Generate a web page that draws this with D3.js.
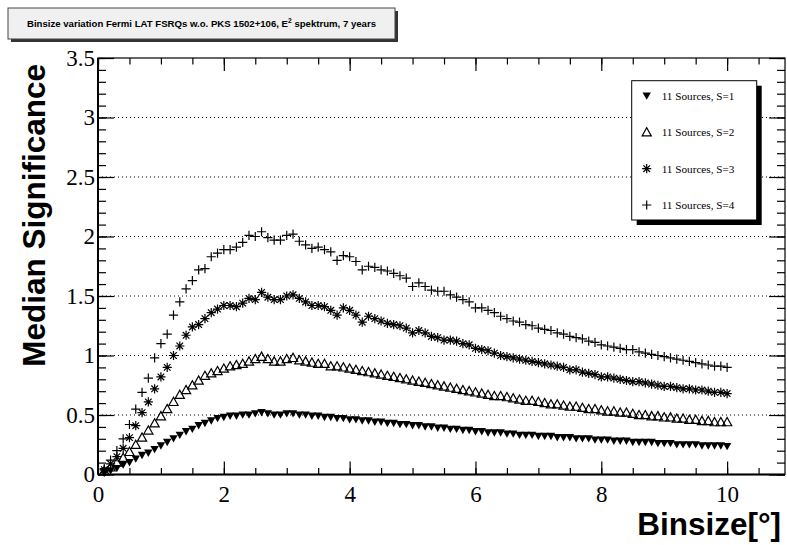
<!DOCTYPE html>
<html><head><meta charset="utf-8">
<script src="https://cdn.jsdelivr.net/npm/d3@7/dist/d3.min.js"></script>
<style>body{margin:0;background:#fff}</style>
</head><body>
<svg id="c" width="787" height="545"></svg>
<script>
const binsize = [0.1,0.2,0.3,0.4,0.5,0.6,0.7,0.8,0.9,1.0,
1.1,1.2,1.3,1.4,1.5,1.6,1.7,1.8,1.9,2.0,
2.1,2.2,2.3,2.4,2.5,2.6,2.7,2.8,2.9,3.0,
3.1,3.2,3.3,3.4,3.5,3.6,3.7,3.8,3.9,4.0,
4.1,4.2,4.3,4.4,4.5,4.6,4.7,4.8,4.9,5.0,
5.1,5.2,5.3,5.4,5.5,5.6,5.7,5.8,5.9,6.0,
6.1,6.2,6.3,6.4,6.5,6.6,6.7,6.8,6.9,7.0,
7.1,7.2,7.3,7.4,7.5,7.6,7.7,7.8,7.9,8.0,
8.1,8.2,8.3,8.4,8.5,8.6,8.7,8.8,8.9,9.0,
9.1,9.2,9.3,9.4,9.5,9.6,9.7,9.8,9.9,10.0];

const s1 = [0.01,0.03,0.05,0.08,0.10,0.13,0.16,0.18,0.21,0.24,
0.27,0.30,0.33,0.36,0.38,0.41,0.43,0.45,0.47,0.48,
0.49,0.49,0.50,0.50,0.51,0.52,0.51,0.50,0.50,0.51,
0.51,0.50,0.50,0.49,0.49,0.48,0.48,0.47,0.47,0.46,
0.46,0.45,0.45,0.44,0.44,0.43,0.43,0.42,0.42,0.41,
0.41,0.40,0.40,0.39,0.39,0.38,0.38,0.37,0.37,0.36,
0.36,0.35,0.35,0.35,0.34,0.34,0.33,0.33,0.33,0.32,
0.32,0.32,0.31,0.31,0.31,0.30,0.30,0.30,0.29,0.29,
0.29,0.28,0.28,0.28,0.27,0.27,0.27,0.27,0.26,0.26,
0.26,0.25,0.25,0.25,0.25,0.24,0.24,0.24,0.24,0.235];

const s2 = [0.03,0.06,0.10,0.14,0.19,0.25,0.31,0.37,0.43,0.49,
0.55,0.61,0.67,0.71,0.75,0.79,0.83,0.85,0.87,0.89,
0.91,0.92,0.93,0.95,0.97,0.99,0.97,0.95,0.95,0.97,
0.98,0.96,0.95,0.94,0.93,0.93,0.91,0.91,0.90,0.89,
0.88,0.87,0.86,0.85,0.84,0.83,0.82,0.81,0.80,0.79,
0.78,0.77,0.76,0.75,0.74,0.73,0.72,0.71,0.70,0.69,
0.68,0.67,0.66,0.66,0.65,0.64,0.63,0.62,0.62,0.61,
0.60,0.59,0.59,0.58,0.57,0.57,0.56,0.55,0.55,0.54,
0.53,0.53,0.52,0.52,0.51,0.50,0.50,0.49,0.49,0.48,
0.48,0.47,0.47,0.46,0.46,0.45,0.45,0.44,0.44,0.44];

const s3 = [0.04,0.09,0.15,0.22,0.31,0.41,0.52,0.61,0.72,0.82,
0.90,1.00,1.08,1.17,1.24,1.26,1.31,1.36,1.39,1.42,
1.42,1.41,1.44,1.48,1.47,1.53,1.49,1.47,1.47,1.50,
1.51,1.48,1.45,1.42,1.42,1.41,1.38,1.34,1.40,1.38,
1.34,1.28,1.33,1.31,1.29,1.27,1.26,1.25,1.23,1.19,
1.21,1.19,1.16,1.15,1.13,1.13,1.12,1.10,1.09,1.06,
1.05,1.04,1.02,1.00,0.99,0.98,0.97,0.96,0.95,0.94,
0.93,0.92,0.91,0.90,0.88,0.88,0.86,0.85,0.84,0.82,
0.82,0.81,0.80,0.79,0.78,0.78,0.77,0.76,0.75,0.74,
0.74,0.73,0.72,0.72,0.71,0.71,0.70,0.69,0.69,0.68];

const s4 = [0.05,0.12,0.20,0.30,0.42,0.55,0.69,0.81,0.98,1.10,
1.18,1.34,1.45,1.56,1.63,1.72,1.73,1.83,1.86,1.89,
1.89,1.91,1.95,2.01,2.00,2.04,1.99,1.97,1.97,2.01,
2.02,1.96,1.93,1.90,1.91,1.89,1.87,1.80,1.84,1.83,
1.79,1.72,1.75,1.74,1.72,1.71,1.69,1.67,1.65,1.58,
1.61,1.58,1.55,1.54,1.54,1.51,1.49,1.47,1.45,1.40,
1.40,1.38,1.36,1.33,1.31,1.29,1.28,1.26,1.25,1.23,
1.22,1.21,1.19,1.18,1.16,1.15,1.14,1.12,1.11,1.09,
1.08,1.07,1.06,1.05,1.05,1.03,1.02,1.01,1.00,0.99,
0.98,0.97,0.96,0.95,0.94,0.93,0.92,0.91,0.91,0.90];

const seriesNames = ["11 Sources, S=1","11 Sources, S=2","11 Sources, S=3","11 Sources, S=4"];
const markerTypes = ["downTri","upTriOpen","asterisk","plus"];
const xMajorTicks = [0,2,4,6,8,10];
const yMajorTicks = [0,0.5,1,1.5,2,2.5,3,3.5];
const gridValues = [0.5,1,1.5,2,2.5,3];
const titleText = "Binsize variation Fermi LAT FSRQs w.o. PKS 1502+106, E";
const titleSup = "2";
const titleRest = " spektrum, 7 years";
const xTitle = "Binsize[°]";
const yTitle = "Median Significance";

const svg = d3.select("#c");
const L = 98, R = 785, T = 58, B = 474.5;
const x = d3.scaleLinear().domain([0, 10.92]).range([L, R]);
const y = d3.scaleLinear().domain([0, 3.5]).range([B, T]);
const xMinor = d3.range(0, 10.92, 0.5);
const yMinor = d3.range(0, 3.5001, 0.1);
const serif = "'Liberation Serif', 'Times New Roman', Times, serif";
const sans = "'Liberation Sans', Arial, Helvetica, sans-serif";

svg.append("g").selectAll("line").data(gridValues).join("line")
  .attr("x1", L).attr("x2", R).attr("y1", d => y(d)).attr("y2", d => y(d))
  .attr("stroke", "#000").attr("stroke-width", 1).attr("stroke-dasharray", "1,3");

svg.append("rect").attr("x", L).attr("y", T).attr("width", R - L).attr("height", B - T)
  .attr("fill", "none").attr("stroke", "#000").attr("stroke-width", 1.2);

function styleAxis(g){ g.select(".domain").remove(); g.selectAll("line").attr("stroke","#000").attr("stroke-width",1.2); }

svg.append("g").attr("transform", `translate(0,${B})`)
  .call(d3.axisBottom(x).tickValues(xMinor).tickSizeInner(-6.5).tickSizeOuter(0).tickFormat(""))
  .call(styleAxis);
const bx = svg.append("g").attr("transform", `translate(0,${B})`)
  .call(d3.axisBottom(x).tickValues(xMajorTicks).tickSizeInner(-13).tickSizeOuter(0).tickPadding(11).tickFormat(d3.format("d")))
  .call(styleAxis);
bx.selectAll("text").style("font-family", serif).style("font-size", "23px").attr("fill", "#000");
svg.append("g").attr("transform", `translate(0,${T})`)
  .call(d3.axisTop(x).tickValues(xMinor).tickSizeInner(-6.5).tickSizeOuter(0).tickFormat("")).call(styleAxis);
svg.append("g").attr("transform", `translate(0,${T})`)
  .call(d3.axisTop(x).tickValues(xMajorTicks).tickSizeInner(-13).tickSizeOuter(0).tickFormat("")).call(styleAxis);
svg.append("g").attr("transform", `translate(${L},0)`)
  .call(d3.axisLeft(y).tickValues(yMinor).tickSizeInner(-8).tickSizeOuter(0).tickFormat("")).call(styleAxis);
const ly = svg.append("g").attr("transform", `translate(${L},0)`)
  .call(d3.axisLeft(y).tickValues(yMajorTicks).tickSizeInner(-16).tickSizeOuter(0).tickPadding(3).tickFormat(d => d3.format("")(d)))
  .call(styleAxis);
ly.selectAll("text").style("font-family", serif).style("font-size", "23px").attr("fill", "#000");
svg.append("g").attr("transform", `translate(${R},0)`)
  .call(d3.axisRight(y).tickValues(yMinor).tickSizeInner(-8).tickSizeOuter(0).tickFormat("")).call(styleAxis);
svg.append("g").attr("transform", `translate(${R},0)`)
  .call(d3.axisRight(y).tickValues(yMajorTicks).tickSizeInner(-16).tickSizeOuter(0).tickFormat("")).call(styleAxis);
svg.append("line").attr("x1", L).attr("x2", R).attr("y1", B).attr("y2", B).attr("stroke", "#000").attr("stroke-width", 2);
svg.append("line").attr("x1", L).attr("x2", L).attr("y1", T).attr("y2", B).attr("stroke", "#000").attr("stroke-width", 2);

function drawMarker(g, type){
  if (type === "downTri") {
    g.append("path").attr("d", "M-4.2,-3.6L4.2,-3.6L0,3.8Z").attr("fill", "#000");
  } else if (type === "upTriOpen") {
    g.append("path").attr("d", "M-4.6,3.6L4.6,3.6L0,-4.6Z").attr("fill", "none").attr("stroke", "#000").attr("stroke-width", 1.2);
  } else if (type === "asterisk") {
    g.append("path").attr("d", "M-4.6,0L4.6,0M0,-4.6L0,4.6M-3.3,-3.3L3.3,3.3M-3.3,3.3L3.3,-3.3").attr("stroke", "#000").attr("stroke-width", 1.2);
  } else {
    g.append("path").attr("d", "M-4.6,0L4.6,0M0,-4.6L0,4.6").attr("stroke", "#000").attr("stroke-width", 1.2);
  }
}
const allSeries = [s1, s2, s3, s4];
allSeries.forEach((vals, si) => {
  const g = svg.append("g");
  g.selectAll("g").data(binsize.map((b, i) => [b, vals[i]])).join("g")
    .attr("transform", d => `translate(${x(d[0])},${y(d[1])})`)
    .each(function(){ drawMarker(d3.select(this), markerTypes[si]); });
});

const lgX = 631.7, lgY = 80.7, lgW = 125, lgH = 139.3;
svg.append("rect").attr("x", lgX + 5).attr("y", lgY + 5).attr("width", lgW).attr("height", lgH).attr("fill", "#000");
svg.append("rect").attr("x", lgX).attr("y", lgY).attr("width", lgW).attr("height", lgH).attr("fill", "#fff").attr("stroke", "#000").attr("stroke-width", 1);
const entryY = d3.scalePoint().domain(seriesNames).range([96, 205]);
seriesNames.forEach((name, i) => {
  const g = svg.append("g").attr("transform", `translate(646.7,${entryY(name)})`);
  drawMarker(g, markerTypes[i]);
  svg.append("text").attr("x", 661.7).attr("y", entryY(name)).attr("dy", "0.35em")
    .style("font-family", serif).style("font-size", "11.2px").text(name);
});

const boxX = 8, boxY = 8, boxW = 387, boxH = 31;
const tg = svg.append("g");
tg.append("rect").attr("x", boxX + 3).attr("y", boxY + 3).attr("width", boxW).attr("height", boxH).attr("fill", "#333");
tg.append("rect").attr("x", boxX).attr("y", boxY).attr("width", boxW).attr("height", boxH).attr("fill", "#f0f0f0").attr("stroke", "#444").attr("stroke-width", 1);
const tt = tg.append("text").attr("x", boxX + boxW / 2).attr("y", boxY + boxH / 2 + 3.6).attr("text-anchor", "middle")
  .style("font-family", sans).style("font-weight", "bold").style("font-size", "9.6px");
tt.append("tspan").text(titleText);
tt.append("tspan").attr("dy", -4).style("font-size", "6.7px").text(titleSup);
tt.append("tspan").attr("dy", 4).text(titleRest);

svg.append("text").attr("x", 781).attr("y", 535).attr("text-anchor", "end")
  .style("font-family", sans).style("font-weight", "bold").style("font-size", "31.5px").text(xTitle);
svg.append("text").attr("transform", "translate(45,64) rotate(-90)").attr("text-anchor", "end")
  .style("font-family", sans).style("font-weight", "bold").style("font-size", "31.5px").text(yTitle);
</script>
</body></html>
